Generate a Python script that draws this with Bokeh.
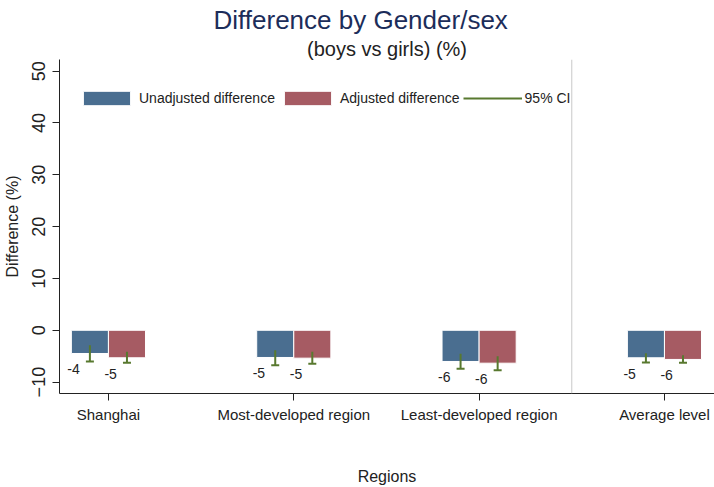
from bokeh.plotting import figure
from bokeh.models import (ColumnDataSource, FixedTicker, Span, Whisker, TeeHead,
                          Legend, LegendItem, Title)
from bokeh.core.properties import value
from bokeh.embed import file_html
from bokeh.resources import INLINE

# ---- data ----
regions = ["Shanghai", "Most-developed region", "Least-developed region", "Average level"]
positions = [1, 2, 3, 4]
unadjusted = [-4.48, -5.25, -6.02, -5.31]
adjusted = [-5.31, -5.38, -6.35, -5.63]
unadj_lower = [-6.02, -6.73, -7.42, -6.21]
unadj_upper = [-2.88, -3.85, -4.54, -4.42]
adj_lower = [-6.27, -6.46, -7.69, -6.27]
adj_upper = [-4.15, -4.15, -5.00, -4.81]
y_ticks = [-10, 0, 10, 20, 30, 40, 50]

FONT = "Liberation Sans"
BLUE = "#4a6e90"
RED = "#a65b63"
GREEN = "#58792f"
TXT = "#222222"
BW = 0.2

src_u = ColumnDataSource(dict(
    x=[p - BW / 2 for p in positions], top=unadjusted,
    lo=unadj_lower, hi=unadj_upper,
    lx=[p - BW + 0.012 for p in positions],
    lab=["%.0f" % v for v in unadjusted]))
src_a = ColumnDataSource(dict(
    x=[p + BW / 2 for p in positions], top=adjusted,
    lo=adj_lower, hi=adj_upper,
    lx=[p + 0.012 for p in positions],
    lab=["%.0f" % v for v in adjusted]))

p = figure(width=714, height=487, title=None, output_backend="svg",
           toolbar_location=None, x_range=(0.736, 4.27), y_range=(-12.2, 52.25),
           min_border_left=58, min_border_right=0, min_border_top=59,
           min_border_bottom=93)
p.outline_line_color = None
p.xgrid.visible = False
p.ygrid.visible = False
p.background_fill_color = "white"
p.border_fill_color = "white"

r_u = p.vbar(x="x", top="top", bottom=0, width=BW, source=src_u,
             fill_color=BLUE, line_color="white", line_width=1)
r_a = p.vbar(x="x", top="top", bottom=0, width=BW, source=src_a,
             fill_color=RED, line_color="white", line_width=1)

r_ci = None
for s in (src_u, src_a):
    r = p.segment(x0="x", y0="lo", x1="x", y1="hi", source=s,
                  line_color=GREEN, line_width=2)
    r_ci = r_ci or r
    w = Whisker(source=s, base="x", lower="lo", upper="hi", dimension="height",
                line_alpha=0,
                upper_head=TeeHead(size=8, line_color=GREEN, line_width=2),
                lower_head=TeeHead(size=8, line_color=GREEN, line_width=2))
    p.add_layout(w)
    p.text(x="lx", y="top", text="lab", source=s, y_offset=16,
           text_align="center", text_baseline="middle",
           text_font=value(FONT), text_font_size="14px", text_color=TXT)

p.add_layout(Span(location=3.5, dimension="height", line_color="#c8c8c8",
                  line_width=1))

# axes
xa = p.xaxis[0]
xa.ticker = FixedTicker(ticks=positions)
xa.major_label_overrides = {pos: name for pos, name in zip(positions, regions)}
xa.minor_tick_line_color = None
xa.major_tick_in = 0
xa.major_tick_out = 7
xa.major_label_standoff = 5
xa.major_label_text_font = FONT
xa.major_label_text_font_size = "15px"
xa.major_label_text_color = TXT
xa.axis_label = "Regions"
xa.axis_label_text_font = FONT
xa.axis_label_text_font_size = "16px"
xa.axis_label_text_font_style = "normal"
xa.axis_label_text_color = TXT
xa.axis_label_standoff = 42
xa.axis_line_color = "#222222"
xa.major_tick_line_color = "#222222"

ya = p.yaxis[0]
ya.ticker = FixedTicker(ticks=y_ticks)
ya.minor_tick_line_color = None
ya.major_tick_in = 0
ya.major_tick_out = 7
ya.major_label_standoff = 7
ya.major_label_orientation = "vertical"
ya.major_label_text_font = FONT
ya.major_label_text_font_size = "18px"
ya.major_label_text_color = TXT
ya.axis_label = "Difference (%)"
ya.axis_label_text_font = FONT
ya.axis_label_text_font_size = "16px"
ya.axis_label_text_font_style = "normal"
ya.axis_label_text_color = TXT
ya.axis_label_standoff = 9
ya.axis_line_color = "#222222"
ya.major_tick_line_color = "#222222"

legend = Legend(items=[
    LegendItem(label="Unadjusted difference", renderers=[r_u]),
    LegendItem(label="Adjusted difference", renderers=[r_a]),
    LegendItem(label="95% CI", renderers=[r_ci]),
], orientation="horizontal", location=(18, 286), padding=0, margin=0,
    spacing=3, label_standoff=3, glyph_width=59, glyph_height=18,
    label_height=18, border_line_color=None, background_fill_alpha=0,
    label_text_font=FONT, label_text_font_size="14px", label_text_color=TXT)
p.add_layout(legend)

subtitle = Title(text="(boys vs girls) (%)", align="center", standoff=0,
                 text_font=FONT, text_font_size="20px", text_font_style="normal",
                 text_color=TXT)
main_title = Title(text="Difference by Gender/sex", align="left", offset=154,
                   standoff=2, text_font=FONT, text_font_size="26px",
                   text_font_style="normal", text_color="#1c2d5a")
p.add_layout(subtitle, "above")
p.add_layout(main_title, "above")

open("out.html", "w").write(file_html(p, INLINE))
